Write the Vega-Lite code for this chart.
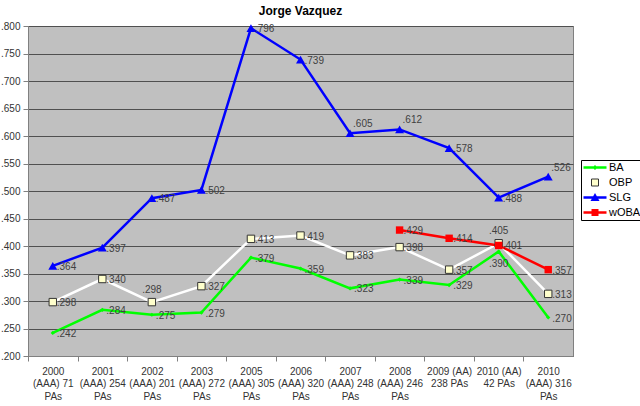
{
  "$schema": "https://vega.github.io/schema/vega-lite/v6.json",
  "width": 545,
  "height": 330,
  "autosize": {"type": "none"},
  "padding": {"left": 28, "top": 26, "right": 67, "bottom": 50},
  "background": "white",
  "config": {
    "font": "Liberation Sans",
    "view": {"fill": "#c0c0c0", "stroke": "#808080"}
  },
  "title": {"text": "Jorge Vazquez", "fontSize": 12, "fontWeight": "bold", "color": "black", "anchor": "middle", "offset": 3},
  "data": {
    "values": [
      {"season": "2000|(AAA) 71|PAs", "stat": "BA", "value": 0.242},
      {"season": "2001|(AAA) 254|PAs", "stat": "BA", "value": 0.284},
      {"season": "2002|(AAA) 201|PAs", "stat": "BA", "value": 0.275},
      {"season": "2003|(AAA) 272|PAs", "stat": "BA", "value": 0.279},
      {"season": "2005|(AAA) 305|PAs", "stat": "BA", "value": 0.379},
      {"season": "2006|(AAA) 320|PAs", "stat": "BA", "value": 0.359},
      {"season": "2007|(AAA) 248|PAs", "stat": "BA", "value": 0.323},
      {"season": "2008|(AAA) 246|PAs", "stat": "BA", "value": 0.339},
      {"season": "2009 (AA)|238 PAs", "stat": "BA", "value": 0.329},
      {"season": "2010 (AA)|42 PAs", "stat": "BA", "value": 0.390},
      {"season": "2010|(AAA) 316|PAs", "stat": "BA", "value": 0.270},
      {"season": "2000|(AAA) 71|PAs", "stat": "OBP", "value": 0.298},
      {"season": "2001|(AAA) 254|PAs", "stat": "OBP", "value": 0.340},
      {"season": "2002|(AAA) 201|PAs", "stat": "OBP", "value": 0.298},
      {"season": "2003|(AAA) 272|PAs", "stat": "OBP", "value": 0.327},
      {"season": "2005|(AAA) 305|PAs", "stat": "OBP", "value": 0.413},
      {"season": "2006|(AAA) 320|PAs", "stat": "OBP", "value": 0.419},
      {"season": "2007|(AAA) 248|PAs", "stat": "OBP", "value": 0.383},
      {"season": "2008|(AAA) 246|PAs", "stat": "OBP", "value": 0.398},
      {"season": "2009 (AA)|238 PAs", "stat": "OBP", "value": 0.357},
      {"season": "2010 (AA)|42 PAs", "stat": "OBP", "value": 0.405},
      {"season": "2010|(AAA) 316|PAs", "stat": "OBP", "value": 0.313},
      {"season": "2000|(AAA) 71|PAs", "stat": "SLG", "value": 0.364},
      {"season": "2001|(AAA) 254|PAs", "stat": "SLG", "value": 0.397},
      {"season": "2002|(AAA) 201|PAs", "stat": "SLG", "value": 0.487},
      {"season": "2003|(AAA) 272|PAs", "stat": "SLG", "value": 0.502},
      {"season": "2005|(AAA) 305|PAs", "stat": "SLG", "value": 0.796},
      {"season": "2006|(AAA) 320|PAs", "stat": "SLG", "value": 0.739},
      {"season": "2007|(AAA) 248|PAs", "stat": "SLG", "value": 0.605},
      {"season": "2008|(AAA) 246|PAs", "stat": "SLG", "value": 0.612},
      {"season": "2009 (AA)|238 PAs", "stat": "SLG", "value": 0.578},
      {"season": "2010 (AA)|42 PAs", "stat": "SLG", "value": 0.488},
      {"season": "2010|(AAA) 316|PAs", "stat": "SLG", "value": 0.526},
      {"season": "2008|(AAA) 246|PAs", "stat": "wOBA", "value": 0.429},
      {"season": "2009 (AA)|238 PAs", "stat": "wOBA", "value": 0.414},
      {"season": "2010 (AA)|42 PAs", "stat": "wOBA", "value": 0.401},
      {"season": "2010|(AAA) 316|PAs", "stat": "wOBA", "value": 0.357}
    ]
  },
  "transform": [
    {"calculate": "replace(format(datum.value, '.3f'), /^0/, '')", "as": "label"},
    {"calculate": "datum.stat === 'SLG' && (indexof(datum.season, '2007') === 0 || indexof(datum.season, '2008') === 0 || indexof(datum.season, '2010|') === 0) ? 'upright' : (datum.stat === 'OBP' && (indexof(datum.season, '2002') === 0 || indexof(datum.season, '2010 (AA)') === 0)) ? 'above' : (datum.stat === 'BA' && indexof(datum.season, '2010 (AA)') === 0) ? 'below' : 'right'", "as": "pos"}
  ],
  "encoding": {
    "x": {
      "field": "season",
      "type": "nominal",
      "sort": null,
      "title": null,
      "axis": {
        "labelAngle": 0,
        "labelExpr": "split(datum.label, '|')",
        "labelLineHeight": 12.5,
        "labelFontSize": 10,
        "labelColor": "#333333",
        "labelPadding": 5,
        "tickOffset": -24.77,
        "labelOffset": 24.77,
        "tickSize": 5,
        "tickColor": "#808080",
        "domainColor": "#808080",
        "grid": false
      }
    },
    "y": {
      "field": "value",
      "type": "quantitative",
      "title": null,
      "scale": {"domain": [0.2, 0.8], "nice": false, "zero": false},
      "axis": {
        "values": [0.2, 0.25, 0.3, 0.35, 0.4, 0.45, 0.5, 0.55, 0.6, 0.65, 0.7, 0.75, 0.8],
        "labelExpr": "replace(format(datum.value, '.3f'), /^0/, '')",
        "labelFontSize": 10,
        "labelColor": "#333333",
        "labelPadding": 3,
        "tickSize": 5,
        "tickColor": "#808080",
        "domainColor": "#808080",
        "gridColor": "#505050",
        "gridWidth": 1
      }
    }
  },
  "layer": [
    {
      "transform": [{"filter": "datum.stat === 'OBP'"}],
      "mark": {"type": "line", "strokeWidth": 2.5, "stroke": "#ffffff"},
      "encoding": {}
    },
    {
      "transform": [{"filter": "datum.stat !== 'OBP'"}],
      "mark": {"type": "line", "strokeWidth": 2.5},
      "encoding": {
        "stroke": {
          "field": "stat",
          "type": "nominal",
          "scale": {"domain": ["BA", "OBP", "SLG", "wOBA"], "range": ["#00ff00", "#333333", "#0000ff", "#ff0000"]},
          "legend": {
            "orient": "none",
            "legendX": 553,
            "legendY": 134,
            "title": null,
            "strokeColor": "#000000",
            "fillColor": "#ffffff",
            "padding": 2,
            "symbolSize": 100,
            "symbolOffset": 6.5,
            "labelOffset": 8.5,
            "labelFontSize": 11,
            "labelColor": "#000000",
            "rowPadding": 3,
            "encode": {
              "symbols": {
                "update": {
                  "x": {"value": 12},
                  "size": {"value": 100},
                  "opacity": {"value": 1},
                  "shape": {"signal": "datum.value === 'BA' ? 'M-2.3,-0.25H2.3V0.25H-2.3Z M0,-0.5L0.5,0L0,0.5L-0.5,0Z' : datum.value === 'OBP' ? 'M-0.7,-0.7H0.7V0.7H-0.7Z' : datum.value === 'SLG' ? 'M-2.3,-0.25H2.3V0.25H-2.3Z M0,-0.9L0.9,0.7L-0.9,0.7Z' : 'M-2.3,-0.25H2.3V0.25H-2.3Z M-0.7,-0.7H0.7V0.7H-0.7Z'"},
                  "fill": {"signal": "datum.value === 'BA' ? '#00ff00' : datum.value === 'OBP' ? '#ffffcc' : datum.value === 'SLG' ? '#0000ff' : '#ff0000'"},
                  "strokeWidth": {"signal": "datum.value === 'OBP' ? 1 : 0"}
                }
              }
            }
          }
        }
      }
    },
    {
      "transform": [{"filter": "datum.stat === 'BA'"}],
      "mark": {"type": "point", "shape": "diamond", "size": 18, "filled": true, "opacity": 1, "fill": "#00ff00", "strokeWidth": 0}
    },
    {
      "transform": [{"filter": "datum.stat === 'OBP'"}],
      "mark": {"type": "point", "shape": "square", "size": 55, "filled": true, "opacity": 1, "fill": "#ffffcc", "stroke": "#333333", "strokeWidth": 1}
    },
    {
      "transform": [{"filter": "datum.stat === 'SLG'"}],
      "mark": {"type": "point", "shape": "triangle-up", "size": 80, "filled": true, "opacity": 1, "fill": "#0000ff", "strokeWidth": 0}
    },
    {
      "transform": [{"filter": "datum.stat === 'wOBA'"}],
      "mark": {"type": "point", "shape": "square", "size": 55, "filled": true, "opacity": 1, "fill": "#ff0000", "strokeWidth": 0}
    },
    {
      "transform": [{"filter": "datum.pos === 'right'"}],
      "mark": {"type": "text", "align": "left", "baseline": "middle", "dx": 4, "dy": 1, "fontSize": 10, "color": "#404040"},
      "encoding": {"text": {"field": "label"}}
    },
    {
      "transform": [{"filter": "datum.pos === 'upright'"}],
      "mark": {"type": "text", "align": "left", "baseline": "middle", "dx": 3, "dy": -9, "fontSize": 10, "color": "#404040"},
      "encoding": {"text": {"field": "label"}}
    },
    {
      "transform": [{"filter": "datum.pos === 'above'"}],
      "mark": {"type": "text", "align": "center", "baseline": "middle", "dx": 0, "dy": -12, "fontSize": 10, "color": "#404040"},
      "encoding": {"text": {"field": "label"}}
    },
    {
      "transform": [{"filter": "datum.pos === 'below'"}],
      "mark": {"type": "text", "align": "center", "baseline": "middle", "dx": 0, "dy": 12, "fontSize": 10, "color": "#404040"},
      "encoding": {"text": {"field": "label"}}
    }
  ]
}
